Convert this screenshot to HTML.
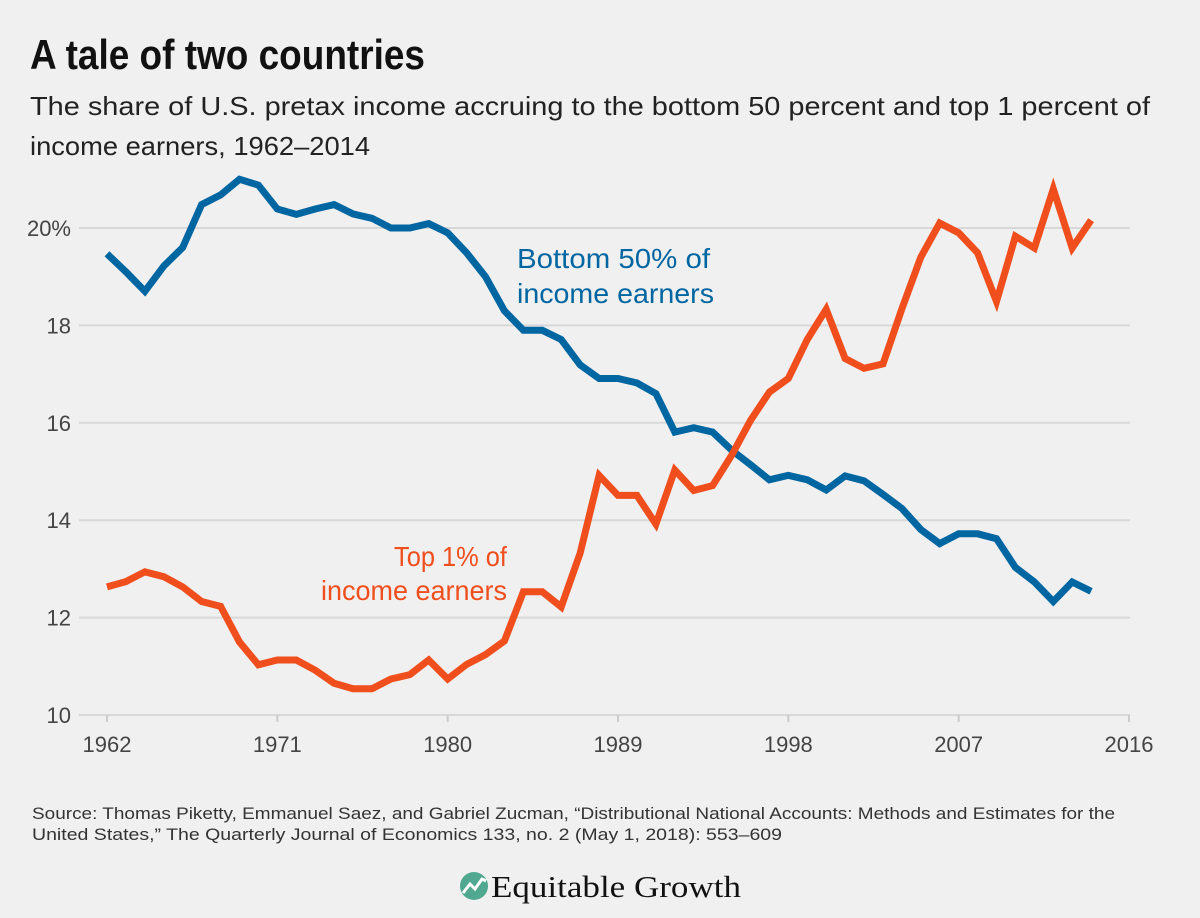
<!DOCTYPE html>
<html><head><meta charset="utf-8">
<style>
html,body{margin:0;padding:0;background:#f0f0f0;}
svg{display:block;font-family:"Liberation Sans",sans-serif;}
</style></head>
<body>
<svg id="chart" width="1200" height="918" viewBox="0 0 1200 918" xmlns="http://www.w3.org/2000/svg">
<rect width="1200" height="918" fill="#f0f0f0"/>
<text x="30" y="69" font-size="42" font-weight="bold" fill="#111" textLength="395" lengthAdjust="spacingAndGlyphs">A tale of two countries</text>
<text x="30" y="115" font-size="26" fill="#222" textLength="1120" lengthAdjust="spacingAndGlyphs">The share of U.S. pretax income accruing to the bottom 50 percent and top 1 percent of</text>
<text x="30" y="155" font-size="26" fill="#222" textLength="340" lengthAdjust="spacingAndGlyphs">income earners, 1962–2014</text>
<g id="grid"></g>
<g id="xaxis"></g>
<g id="series"></g>
<text x="517" y="268" font-size="28" fill="#0066a1" textLength="193" lengthAdjust="spacingAndGlyphs">Bottom 50% of</text>
<text x="517" y="303" font-size="28" fill="#0066a1" textLength="197" lengthAdjust="spacingAndGlyphs">income earners</text>
<text x="507" y="566" font-size="28" fill="#f04e1c" text-anchor="end" textLength="113" lengthAdjust="spacingAndGlyphs">Top 1% of</text>
<text x="507" y="600" font-size="28" fill="#f04e1c" text-anchor="end" textLength="186" lengthAdjust="spacingAndGlyphs">income earners</text>
<text x="32" y="819" font-size="17" fill="#333" textLength="1083" lengthAdjust="spacingAndGlyphs">Source: Thomas Piketty, Emmanuel Saez, and Gabriel Zucman, “Distributional National Accounts: Methods and Estimates for the</text>
<text x="32" y="840" font-size="17" fill="#333" textLength="750" lengthAdjust="spacingAndGlyphs">United States,” The Quarterly Journal of Economics 133, no. 2 (May 1, 2018): 553–609</text>
<g>
<circle cx="474" cy="886" r="14" fill="#4fa88f"/>
<polyline points="463,893 470,884 475,889 482,879 486,881" fill="none" stroke="#fff" stroke-width="3"/>
<text x="491" y="897" font-family="'Liberation Serif',serif" font-size="31" fill="#111" textLength="250" lengthAdjust="spacingAndGlyphs">Equitable Growth</text>
</g>
</svg>
<script>
const years = [];
for (let y = 1962; y <= 2014; y++) years.push(y);
const bottom50 = [19.47,19.1,18.7,19.22,19.6,20.48,20.68,21.0,20.88,20.39,20.28,20.39,20.48,20.29,20.2,20.0,20.0,20.09,19.9,19.49,19.0,18.3,17.9,17.9,17.71,17.19,16.91,16.91,16.82,16.6,15.81,15.9,15.81,15.44,15.14,14.83,14.92,14.83,14.62,14.91,14.81,14.53,14.24,13.81,13.52,13.72,13.72,13.62,13.03,12.73,12.33,12.73,12.54];
const top1 = [12.63,12.74,12.94,12.84,12.63,12.33,12.23,11.5,11.03,11.13,11.13,10.92,10.65,10.54,10.54,10.74,10.83,11.13,10.74,11.04,11.24,11.52,12.53,12.53,12.22,13.32,14.92,14.51,14.51,13.92,15.03,14.61,14.71,15.33,16.05,16.63,16.91,17.71,18.33,17.32,17.12,17.21,18.34,19.4,20.1,19.9,19.49,18.49,19.83,19.59,20.8,19.59,20.16];
const yTicks = [10,12,14,16,18,20];
const yTickLabels = ["10","12","14","16","18","20%"];
const xTicks = [1962,1971,1980,1989,1998,2007,2016];

const NS = "http://www.w3.org/2000/svg";
const xs = yr => 107 + (yr - 1962) * (1129 - 107) / 54;
const ys = v => 715 - (v - 10) * (715 - 228) / 10;
function mk(tag, attrs, parent) {
  const e = document.createElementNS(NS, tag);
  for (const k in attrs) e.setAttribute(k, attrs[k]);
  parent.appendChild(e);
  return e;
}
const grid = document.getElementById('grid');
yTicks.forEach((t, i) => {
  const l = mk('line', {x1: 79, x2: 1130, y1: ys(t), y2: ys(t), stroke: '#d8d8d8', 'stroke-width': 2}, grid);
  
  
  const tx = mk('text', {x: 71, y: ys(t) + 8, 'font-size': 22, fill: '#444', 'text-anchor': 'end'}, grid);
  tx.textContent = yTickLabels[i];
  
  
});
const xa = document.getElementById('xaxis');
xTicks.forEach(t => {
  const l = mk('line', {x1: xs(t), x2: xs(t), y1: 715, y2: 722, stroke: '#ccc', 'stroke-width': 2}, xa);
  
  
  const tx = mk('text', {x: xs(t), y: 752, 'font-size': 22, fill: '#444', 'text-anchor': 'middle'}, xa);
  tx.textContent = t;
  
  
});
const sg = document.getElementById('series');
function line(vals, color, name) {
  const pts = vals.map((v, i) => xs(years[i]).toFixed(1) + ',' + ys(v).toFixed(1)).join(' ');
  const p = mk('polyline', {points: pts, fill: 'none', stroke: color, 'stroke-width': 7, 'stroke-linejoin': 'miter'}, sg);
  
  
}
line(bottom50, '#0066a1', 'bottom-50-line');
line(top1, '#f04e1c', 'top-1-line');
</script>
</body></html>
